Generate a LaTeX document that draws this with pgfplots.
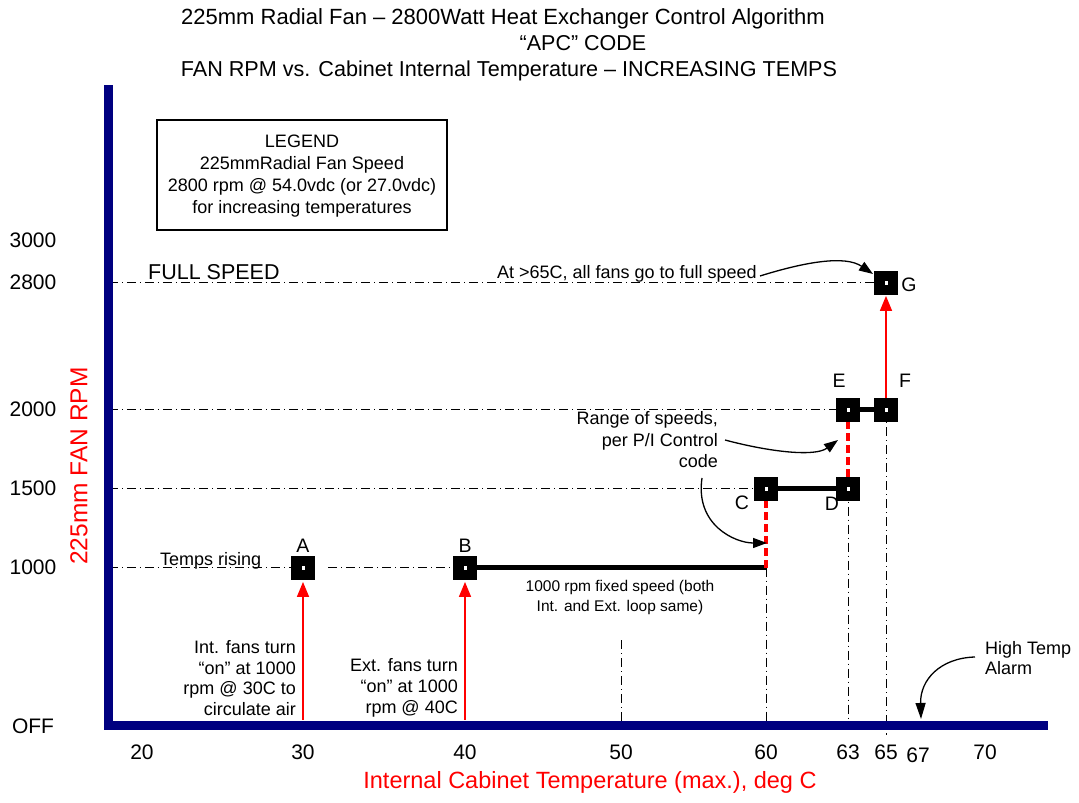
\documentclass[border=0pt]{standalone}
\usepackage{pgfplots}
\pgfplotsset{compat=1.18}
\usepackage{pgfplotstable}
\usepackage{fontspec}
\setmainfont{Liberation Sans}
\usetikzlibrary{arrows.meta}
\definecolor{navy}{RGB}{0,0,128}

\begin{document}
\pgfplotstableread{
x rpm
303 1000
465 1000
766 1500
848 1500
848 2000
886 2000
886 2800
}\points
\begin{tikzpicture}
\begin{axis}[
  scale only axis, width=934pt, height=636.5pt,
  xmin=109, xmax=1043, ymin=0, ymax=4021,
  axis x line=bottom, axis y line=left,
  axis line style={-, draw=navy, line width=9pt, line cap=rect},
  axis on top, clip=false,
  major tick length=0pt,
  xtick={142,303,465,621,766,848,886,918,985},
  xticklabels={20,30,40,50,60,63,65,\raisebox{-3pt}{67},70},
  ytick={0,1000,1500,2000,2800,3070},
  yticklabels={OFF,1000,1500,2000,2800,3000},
  xticklabel style={anchor=base, yshift=-33.5pt, font=\fontsize{21}{25}\selectfont},
  yticklabel style={anchor=center, xshift=-76pt, font=\fontsize{21}{25}\selectfont},
  /pgf/number format/assume math mode=true,
  dd/.style={black, line width=0.9pt, dash pattern=on 9pt off 4pt on 1pt off 4pt},
]
% dash-dot reference lines
\addplot[dd] coordinates {(109,2800) (875,2800)};
\addplot[dd] coordinates {(109,2000) (837,2000)};
\addplot[dd] coordinates {(109,1500) (755,1500)};
\addplot[dd] coordinates {(109,1000) (292,1000)};
\addplot[dd] coordinates {(328,1000) (454,1000)};
\addplot[dd] coordinates {(621,543) (621,0)};
\addplot[dd] coordinates {(766,1000) (766,0)};
\addplot[dd] coordinates {(848,1500) (848,0)};
\addplot[dd] coordinates {(886,2000) (886,-57)};
% solid segments
\addplot[black, line width=4.5pt] coordinates {(465,1000) (766,1000)};
\addplot[black, line width=4.5pt] coordinates {(766,1500) (848,1500)};
\addplot[black, line width=4.5pt] coordinates {(848,2000) (886,2000)};
% red dashed ranges
\addplot[red, line width=4.5pt, dash pattern=on 8pt off 4pt] coordinates {(766,1000) (766,1500)};
\addplot[red, line width=4.5pt, dash pattern=on 8pt off 4pt] coordinates {(848,1500) (848,2000)};
% red arrows
\addplot[red, line width=1.6pt, -{Triangle[length=15pt,width=12pt]}] coordinates {(303,38) (303,910)};
\addplot[red, line width=1.6pt, -{Triangle[length=15pt,width=12pt]}] coordinates {(465,38) (465,910)};
\addplot[red, line width=1.6pt, -{Triangle[length=15pt,width=12pt]}] coordinates {(886,2000) (886,2717)};
% markers
\addplot[only marks, mark=square*, mark size=11.5pt, mark options={draw=none, fill=black}] table[x=x,y=rpm]{\points};
\addplot[only marks, mark=square*, mark size=2.3pt, mark options={draw=none, fill=white}] table[x=x,y=rpm]{\points};
\coordinate (O) at (axis cs:109,0);
\end{axis}
\begin{scope}[shift={(O)}, x=1pt, y=-1pt, shift={(-109,-726)}]
\path (0,0) rectangle (1079,803);
% title
\node[anchor=base, inner sep=0, font=\fontsize{22}{26}\selectfont] at (503,25) {225mm Radial Fan – 2800Watt Heat Exchanger Control Algorithm};
\node[anchor=base, inner sep=0, font=\fontsize{21.5}{26}\selectfont] at (583,51) {“APC” CODE};
\node[anchor=base, inner sep=0, font=\fontsize{21.6}{26}\selectfont] at (509,77) {FAN RPM vs. Cabinet Internal Temperature – INCREASING TEMPS};
% legend box
\draw[line width=1.3pt] (157,120) rectangle (447,230);
\node[align=center, inner sep=0, font=\fontsize{18}{22}\selectfont] at (302,176) {LEGEND\\225mmRadial Fan Speed\\2800 rpm @ 54.0vdc (or 27.0vdc)\\for increasing temperatures};
% texts
\node[anchor=base west, inner sep=0, font=\fontsize{21.5}{25}\selectfont] at (148,280) {FULL SPEED};
\node[anchor=base east, inner sep=0, font=\fontsize{18}{22}\selectfont] at (757,278.5) {At >65C, all fans go to full speed};
\node[anchor=base west, inner sep=0, font=\fontsize{18}{22}\selectfont] at (160,566) {Temps rising};
\node[anchor=east, align=right, inner sep=0, font=\fontsize{18}{21.5}\selectfont] at (718,440) {Range of speeds,\\per P/I Control\\code};
\node[align=center, inner sep=0, font=\fontsize{15.5}{20}\selectfont] at (620,597.5) {1000 rpm fixed speed (both\\Int. and Ext. loop same)};
\node[anchor=east, align=right, inner sep=0, font=\fontsize{18}{20.7}\selectfont] at (296,678) {Int. fans turn\\“on” at 1000\\rpm @ 30C to\\circulate air};
\node[anchor=east, align=right, inner sep=0, font=\fontsize{18}{21}\selectfont] at (458,688) {Ext. fans turn\\“on” at 1000\\rpm @ 40C};
\node[anchor=west, align=left, inner sep=0, font=\fontsize{18}{20}\selectfont] at (985,658) {High Temp\\Alarm};
% point letters
\foreach \l/\px/\py in {A/303/553, B/465/553, C/742/510, D/832/511, E/839/388, F/905/388, G/909/292}
  \node[anchor=base, inner sep=0, font=\fontsize{19.5}{23}\selectfont] at (\px,\py) {\l};
% axis titles
\node[anchor=base, inner sep=0, red, font=\fontsize{23.5}{28}\selectfont] at (590,788.5) {Internal Cabinet Temperature (max.), deg C};
\node[rotate=90, inner sep=0, red, font=\fontsize{24.5}{29}\selectfont] at (79,466) {225mm FAN RPM};
% curved arrows
\draw[line width=1.3pt, -{Triangle[length=14pt,width=10pt]}] (760,276) .. controls (805,262) and (845,255) .. (873,274);
\draw[line width=1.3pt, -{Triangle[length=14pt,width=10pt]}] (725,440) .. controls (770,452) and (815,457) .. (838,440);
\draw[line width=1.3pt, -{Triangle[length=14pt,width=10pt]}] (702,478) .. controls (695,525) and (735,543) .. (767,543);
\draw[line width=1.3pt, -{Triangle[length=16pt,width=10pt]}] (975,657) .. controls (940,658) and (920,680) .. (921,719);
\end{scope}
\end{tikzpicture}
\end{document}
